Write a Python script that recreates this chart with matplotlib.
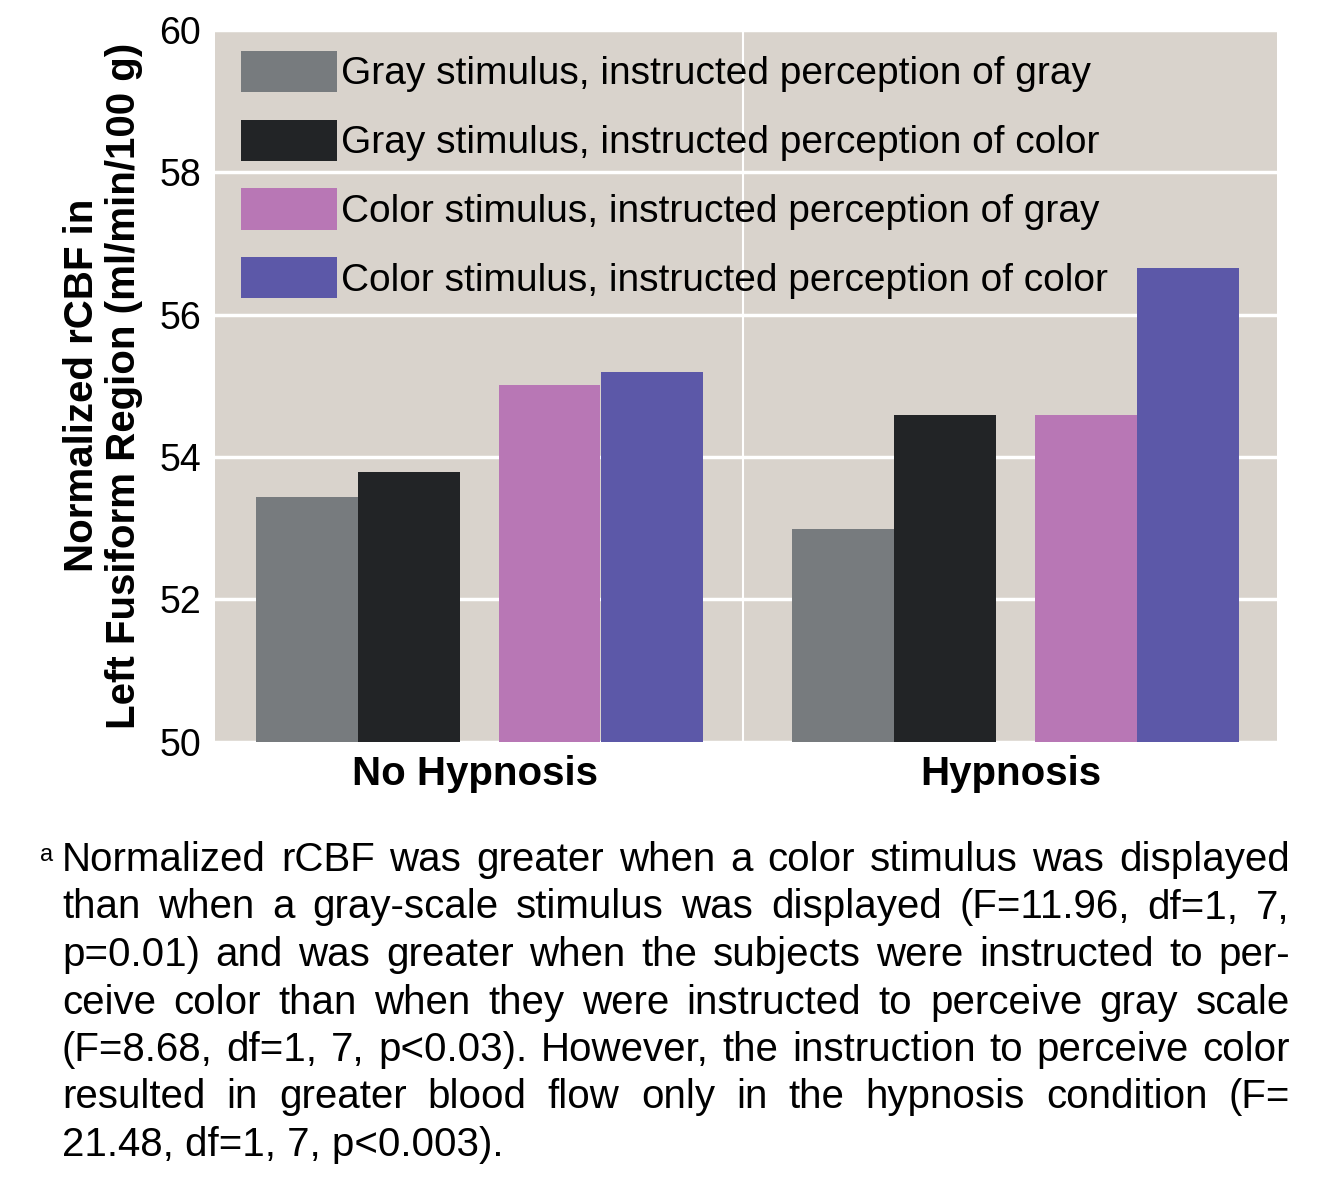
import numpy as np
import matplotlib.pyplot as plt

groups = ['No Hypnosis', 'Hypnosis']
series = [
    'Gray stimulus, instructed perception of gray',
    'Gray stimulus, instructed perception of color',
    'Color stimulus, instructed perception of gray',
    'Color stimulus, instructed perception of color',
]
gray_gray = [53.44, 52.99]
gray_color = [53.79, 54.59]
color_gray = [55.01, 54.59]
color_color = [55.20, 56.66]
colors = ['#777b7e', '#222426', '#b877b5', '#5c58a8']

footnote_lines = [
    'Normalized rCBF was greater when a color stimulus was displayed',
    'than when a gray-scale stimulus was displayed (F=11.96, df=1, 7,',
    'p=0.01) and was greater when the subjects were instructed to per-',
    'ceive color than when they were instructed to perceive gray scale',
    '(F=8.68, df=1, 7, p<0.03). However, the instruction to perceive color',
    'resulted in greater blood flow only in the hypnosis condition (F=',
    '21.48, df=1, 7, p<0.003).',
]

plt.rcParams['font.family'] = ['Liberation Sans', 'DejaVu Sans']

fig = plt.figure(figsize=(13.27, 12), dpi=100)
ax = fig.add_axes([0.162, 0.382, 0.800, 0.593])
ax.set_facecolor('#d9d3cc')

x = np.arange(len(groups))
offsets = [-0.313, -0.123, 0.139, 0.330]
width = 0.19
values = [gray_gray, gray_color, color_gray, color_color]
for vals, off, c, lab in zip(values, offsets, colors, series):
    ax.bar(x + off, np.array(vals) - 50, width, bottom=50, color=c, label=lab, zorder=3)

ax.set_ylim(50, 60)
ax.set_xlim(-0.485, 1.495)
ax.set_yticks([50, 52, 54, 56, 58, 60])
ax.yaxis.grid(True, color='white', linewidth=2.5, zorder=1)
ax.axvline(0.5, color='white', linewidth=1.5, zorder=1)
ax.set_xticks(x)
ax.set_xticklabels(groups, fontsize=29, fontweight='bold')
ax.tick_params(axis='both', length=0)
ax.tick_params(axis='y', labelsize=27, pad=10)
ax.tick_params(axis='x', pad=10)
for s in ax.spines.values():
    s.set_visible(False)

ax.set_ylabel('Normalized rCBF in\nLeft Fusiform Region (ml/min/100 g)', fontsize=29,
              fontweight='bold', labelpad=12, linespacing=1.12)

ax.legend(loc='upper left', bbox_to_anchor=(-0.008, 1.02), frameon=False, fontsize=28,
          handlelength=2.45, handleheight=1.25, handletextpad=0.12, labelspacing=0.7)

# footnote, justified line by line
fig.text(0.030, 0.297, 'a', fontsize=17, va='top')
fig.canvas.draw()
renderer = fig.canvas.get_renderer()
left_px, right_px = 62, 1290
W, H = fig.bbox.width, fig.bbox.height
y_px = 841
for i, line in enumerate(footnote_lines):
    y = 1 - (y_px + i * 47.5) / H
    words = line.split(' ')
    if i == len(footnote_lines) - 1:
        fig.text(left_px / W, y, line, fontsize=29, va='top')
        continue
    objs = [fig.text(0, y, w, fontsize=29, va='top') for w in words]
    widths = [o.get_window_extent(renderer).width for o in objs]
    gap = (right_px - left_px - sum(widths)) / (len(words) - 1)
    pos = left_px
    for o, w in zip(objs, widths):
        o.set_x(pos / W)
        pos += w + gap

fig.savefig('out.png', dpi=100)
